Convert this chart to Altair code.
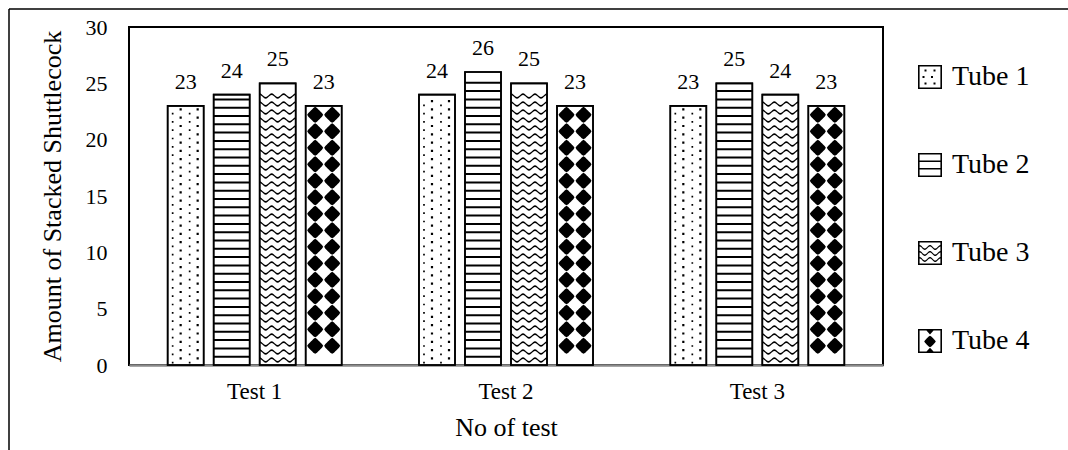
import math

import altair as alt
import pandas as pd

# ---- data -------------------------------------------------------------
tests = ["Test 1", "Test 2", "Test 3"]
tubes = ["Tube 1", "Tube 2", "Tube 3", "Tube 4"]
tube_1 = [23, 24, 23]
tube_2 = [24, 26, 25]
tube_3 = [25, 25, 24]
tube_4 = [23, 23, 23]
y_ticks = [0, 5, 10, 15, 20, 25, 30]

FONT = "Liberation Serif"
PLOT_W, PLOT_H = 754, 338
Y_MAX = 30
PX_PER_UNIT = PLOT_H / Y_MAX
BAR_PX = 36          # bar width produced by the band scales below
ICON_PX = 24         # legend swatch size

series = {"Tube 1": tube_1, "Tube 2": tube_2, "Tube 3": tube_3, "Tube 4": tube_4}
bars = pd.DataFrame(
    [{"Test": t, "Tube": tube, "Count": vals[i]}
     for tube, vals in series.items() for i, t in enumerate(tests)]
)

# ---- fill textures, built as custom symbol paths ----------------------
def f(v):
    return f"{v:.3f}"


def rect(x0, y0, x1, y1, s):
    return f"M{f(x0/s)},{f(y0/s)}H{f(x1/s)}V{f(y1/s)}H{f(x0/s)}Z"


def hole(x0, y0, x1, y1, s):
    # counter-clockwise square, punches a hole in a clockwise one
    return f"M{f(x0/s)},{f(y0/s)}V{f(y1/s)}H{f(x1/s)}V{f(y0/s)}Z"


def poly(points, s):
    return "M" + "L".join(f"{f(x/s)},{f(y/s)}" for x, y in points) + "Z"


def dot(cx, cy, d, s):
    return rect(cx - d / 2, cy - d / 2, cx + d / 2, cy + d / 2, s)


def diamond(cx, cy, tip, bulge, s):
    # rhombus whose sides bow outward a little
    pts = []
    for k in range(24):
        a = k * math.pi / 12
        flat = tip / (abs(math.cos(a)) + abs(math.sin(a)))
        r = tip if k % 6 == 0 else flat * bulge
        pts.append((cx + r * math.cos(a), cy + r * math.sin(a)))
    return poly(pts, s)


def wave(x0, x1, cy, amp, period, thick, s, phase=0.0):
    xs = []
    x = x0
    while x < x1:
        xs.append(x)
        x += 1.0
    xs.append(x1)
    top = [(x, cy - amp * math.sin(2 * math.pi * (x - x0) / period + phase) - thick / 2) for x in xs]
    bot = [(x, cy - amp * math.sin(2 * math.pi * (x - x0) / period + phase) + thick / 2) for x in reversed(xs)]
    return poly(top + bot, s)


H = BAR_PX / 2  # half bar width in px; symbol path unit = H px
row_paths = {
    "Tube 1": dot(-5, -2.1, 2.2, H) + dot(12, -2.1, 2.2, H) + dot(-13, 2.1, 1.7, H) + dot(4, 2.1, 1.7, H),
    "Tube 2": rect(-H, -1.0, H, 1.0, H),
    "Tube 3": wave(-H, H, 0, 1.8, 12, 1.7, H, phase=math.pi / 2),
    "Tube 4": diamond(-8.5, 0, 8.0, 1.08, H) + diamond(8.5, 0, 8.0, 1.08, H),
}
# (start px, step px, margin below bar top px, counted from top?)
row_layout = {
    "Tube 1": (4.5, 8.3, 4.0, False),
    "Tube 2": (8.3, 8.3, 4.0, False),
    "Tube 3": (5.0, 8.0, 5.0, False),
    "Tube 4": (9.0, 16.5, 7.0, True),
}

rows = []
for _, b in bars.iterrows():
    start, step, margin, from_top = row_layout[b["Tube"]]
    top_px = b["Count"] * PX_PER_UNIT
    if from_top:
        y = top_px - start
        while y >= margin:
            rows.append({"Test": b["Test"], "Tube": b["Tube"], "Count": y / PX_PER_UNIT})
            y -= step
    else:
        y = start
        while y <= top_px - margin:
            rows.append({"Test": b["Test"], "Tube": b["Tube"], "Count": y / PX_PER_UNIT})
            y += step
texture = pd.DataFrame(rows)

# legend swatches: framed box holding a sample of each texture
S = ICON_PX / 2
frame = rect(-S, -S, S, S, S) + hole(-10.4, -10.4, 10.4, 10.4, S)
icon_paths = [
    frame + "".join(dot(x, y, 2.0, S) for x, y in [(-4.5, -6.5), (4.5, -6.5), (-6.5, 0), (2, 0), (-4.5, 6.5), (4.5, 6.5)]),
    frame + rect(-10.4, -4.5, 10.4, -2.9, S) + rect(-10.4, 2.9, 10.4, 4.5, S),
    frame + "".join(wave(-10.4, 10.4, y, 1.8, 10.4, 1.5, S, phase=math.pi / 2) for y in (-5.5, 0.5, 6.5)),
    frame + diamond(0, 0.5, 5.8, 1.08, S) + poly([(-4, -11), (4, -11), (0, -6.5)], S) + poly([(-4, 11), (0, 6.8), (4, 11)], S),
]

# ---- encodings --------------------------------------------------------
x_enc = alt.X(
    "Test:N",
    sort=tests,
    scale=alt.Scale(domain=tests, paddingInner=0, paddingOuter=0),
    axis=alt.Axis(
        title="No of test", labelAngle=0, ticks=False, labelPadding=15,
        labelFontSize=23, titleFontSize=26, titlePadding=11,
        domainColor="#8a8a8a", domainWidth=2.5,
    ),
)
xoff_enc = alt.XOffset(
    "Tube:N", sort=tubes,
    scale=alt.Scale(domain=tubes, paddingInner=0.217, paddingOuter=0.84),
)
y_enc = alt.Y(
    "Count:Q",
    scale=alt.Scale(domain=[0, Y_MAX], nice=False),
    axis=alt.Axis(
        title="Amount of Stacked Shuttlecock", values=y_ticks, grid=False,
        ticks=False, domain=False, labelPadding=22, labelFontSize=22,
        titleFontSize=26, titlePadding=20,
    ),
)

base = alt.Chart(bars).encode(x=x_enc, xOffset=xoff_enc, y=y_enc)

bar_fill = base.mark_bar(fill="white", stroke="black", strokeWidth=1.6)

texture_layers = [
    alt.Chart(texture)
    .transform_filter(alt.datum.Tube == tube)
    .mark_point(shape=row_paths[tube], size=BAR_PX * BAR_PX, filled=True,
                fill="black", opacity=1, strokeOpacity=0)
    .encode(x=x_enc, xOffset=xoff_enc, y=y_enc)
    for tube in tubes
]

bar_edge = base.mark_bar(fillOpacity=0, stroke="black", strokeWidth=1.6)

value_text = base.mark_text(
    font=FONT, fontSize=22, baseline="alphabetic", dy=-17, color="black"
).encode(text="Count:Q")

legend_layer = base.mark_point(filled=True, color="black", opacity=0).encode(
    shape=alt.Shape(
        "Tube:N",
        scale=alt.Scale(domain=tubes, range=icon_paths),
        legend=alt.Legend(
            title=None, orient="none", legendX=787, legendY=36, padding=0,
            symbolSize=ICON_PX * ICON_PX, symbolOpacity=1, symbolFillColor="black",
            symbolStrokeWidth=0, labelFont=FONT, labelFontSize=28,
            labelColor="black", labelOffset=8, rowPadding=60,
        ),
    )
)

# page border on the left and top
one = alt.Data(values=[{"k": 1}])
border_left = alt.Chart(one).mark_rule(color="black", strokeWidth=1.5).encode(
    x=alt.value(-120), y=alt.value(-18), y2=alt.value(460)
)
border_top = alt.Chart(one).mark_rule(color="black", strokeWidth=1.5).encode(
    x=alt.value(-120), x2=alt.value(960), y=alt.value(-18)
)

chart = (
    alt.layer(bar_fill, *texture_layers, bar_edge, value_text, legend_layer,
              border_left, border_top)
    .properties(
        width=PLOT_W, height=PLOT_H,
        autosize=alt.AutoSizeParams(type="none"),
        padding={"left": 129, "top": 27, "right": 185, "bottom": 85},
        background="white",
    )
    .configure_view(stroke="black", strokeWidth=2)
    .configure_axis(labelFont=FONT, titleFont=FONT, labelColor="black",
                    titleColor="black", titleFontWeight="normal")
)

chart.save("out.html", embed_options={"renderer": "svg", "actions": False})
